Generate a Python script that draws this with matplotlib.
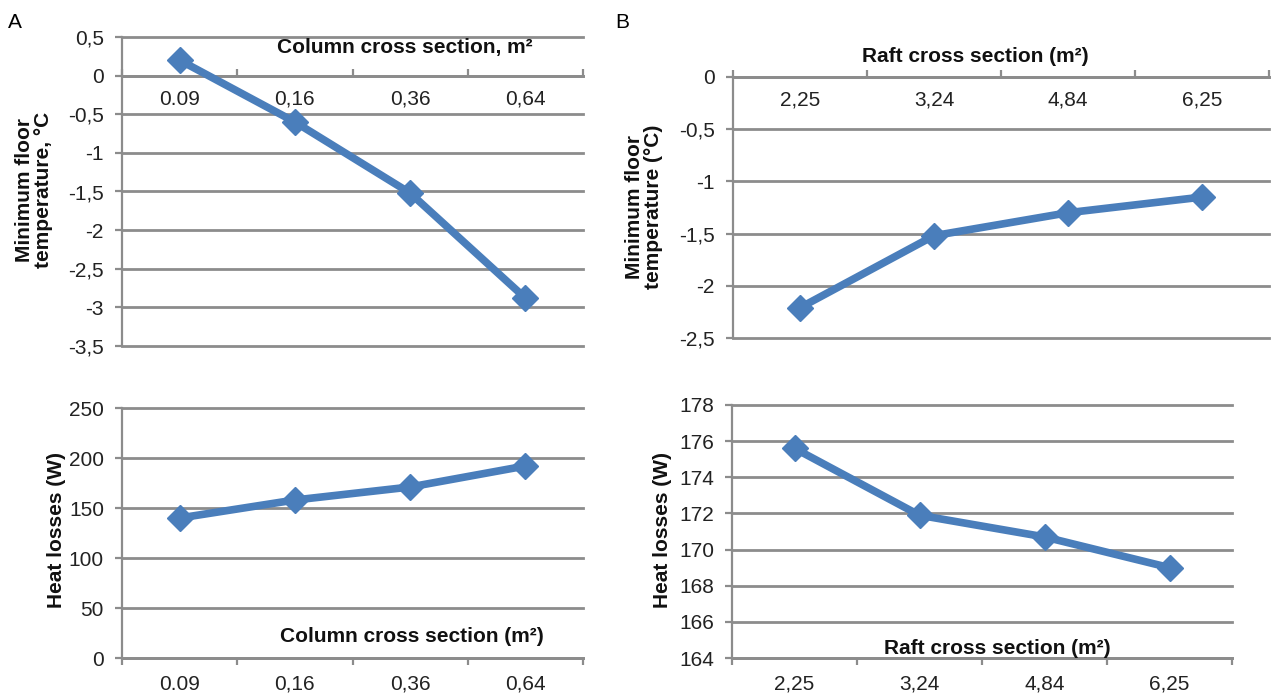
import matplotlib.pyplot as plt
from matplotlib.ticker import FixedLocator

W, H = 1271, 695

BLUE = "#4a7ebb"
GRAY = "#8c8c8c"

plt.rcParams.update(
    {
        "font.family": ["Liberation Sans", "DejaVu Sans"],
        "font.size": 15,
        "axes.linewidth": 1.6,
    }
)

# panel A: column cross section
COLUMN_LABELS = ["0.09", "0,16", "0,36", "0,64"]
COLUMN_TEMP = [0.2, -0.6, -1.52, -2.88]
COLUMN_HEAT = [140, 158, 171, 192]
COLUMN_TEMP_TICKS = [0.5, 0, -0.5, -1, -1.5, -2, -2.5, -3, -3.5]
COLUMN_HEAT_TICKS = [0, 50, 100, 150, 200, 250]

# panel B: raft cross section
RAFT_LABELS = ["2,25", "3,24", "4,84", "6,25"]
RAFT_TEMP = [-2.21, -1.52, -1.30, -1.15]
RAFT_HEAT = [175.6, 171.9, 170.7, 169.0]
RAFT_TEMP_TICKS = [0, -0.5, -1, -1.5, -2, -2.5]
RAFT_HEAT_TICKS = [164, 166, 168, 170, 172, 174, 176, 178]

TICK_FS = 15
TICK_COLOR = "#222222"


def box(x0, y0, x1, y1):
    # pixel box (top-left origin) -> figure fraction rect
    return [x0 / W, 1 - y1 / H, (x1 - x0) / W, (y1 - y0) / H]


def fmt(v):
    return f"{v:g}".replace(".", ",")


def panel(ax, labels, values, yticks, top_axis):
    n = len(labels)
    xs = list(range(n))
    ax.set_xlim(-0.5, n - 0.5)
    ax.set_ylim(min(yticks), max(yticks))

    for y in yticks:
        ax.axhline(y, color=GRAY, lw=2, zorder=0, clip_on=False)

    ax.plot(xs, values, color=BLUE, lw=5.5, marker="D", ms=13,
            markeredgecolor=BLUE, zorder=3, clip_on=False)

    for s in ["top", "right"]:
        ax.spines[s].set_visible(False)
    ax.spines["left"].set_color(GRAY)
    ax.spines["bottom"].set_color(GRAY)
    ax.spines["bottom"].set_linewidth(2)

    ax.yaxis.set_major_locator(FixedLocator(yticks))
    ax.set_yticklabels([fmt(v) for v in yticks])
    ax.tick_params(axis="y", length=5, width=1.6, color=GRAY, pad=8,
                   labelsize=TICK_FS, labelcolor=TICK_COLOR)

    ax.set_xticks(xs)
    ax.set_xticklabels(labels)
    ax.set_xticks([i - 0.5 for i in range(n + 1)], minor=True)
    if top_axis:
        ax.spines["bottom"].set_position(("data", 0))
        ax.tick_params(axis="x", which="minor", direction="in", length=5,
                       width=1.6, color=GRAY)
        ax.tick_params(axis="x", which="major", length=0, pad=10,
                       labelsize=TICK_FS, labelcolor=TICK_COLOR)
    else:
        ax.tick_params(axis="x", which="minor", direction="out", length=5,
                       width=1.6, color=GRAY)
        ax.tick_params(axis="x", which="major", length=0, pad=12,
                       labelsize=TICK_FS, labelcolor=TICK_COLOR)
    ax.set_facecolor("none")


fig = plt.figure(figsize=(W / 100, H / 100), dpi=100)

ax_a1 = fig.add_axes(box(122, 37, 583, 346))
panel(ax_a1, COLUMN_LABELS, COLUMN_TEMP, COLUMN_TEMP_TICKS, True)
ax_a2 = fig.add_axes(box(122, 408, 583, 658))
panel(ax_a2, COLUMN_LABELS, COLUMN_HEAT, COLUMN_HEAT_TICKS, False)
ax_b1 = fig.add_axes(box(733, 77, 1269, 338))
panel(ax_b1, RAFT_LABELS, RAFT_TEMP, RAFT_TEMP_TICKS, True)
ax_b2 = fig.add_axes(box(732, 405, 1232, 658))
panel(ax_b2, RAFT_LABELS, RAFT_HEAT, RAFT_HEAT_TICKS, False)


def ftext(x, y, s, **kw):
    fig.text(x / W, 1 - y / H, s, ha="center", va="center", **kw)


BOLD = dict(fontsize=15, fontweight="bold", color="#111111")

ftext(15, 22, "A", fontsize=15)
ftext(622, 22, "B", fontsize=15)

ftext(405, 48, "Column cross section, m²", **BOLD)
ftext(412, 637, "Column cross section (m²)", **BOLD)
ftext(975, 57, "Raft cross section (m²)", **BOLD)
ftext(997, 648, "Raft cross section (m²)", **BOLD)

ftext(34, 190, "Minimum floor\ntemperature, °C", rotation=90,
      linespacing=1.0, **BOLD)
ftext(644, 207, "Minimum floor\ntemperature (°C)", rotation=90,
      linespacing=1.0, **BOLD)
ftext(57, 530, "Heat losses (W)", rotation=90, **BOLD)
ftext(662, 530, "Heat losses (W)", rotation=90, **BOLD)

fig.savefig("out.png", dpi=100, facecolor="white")
